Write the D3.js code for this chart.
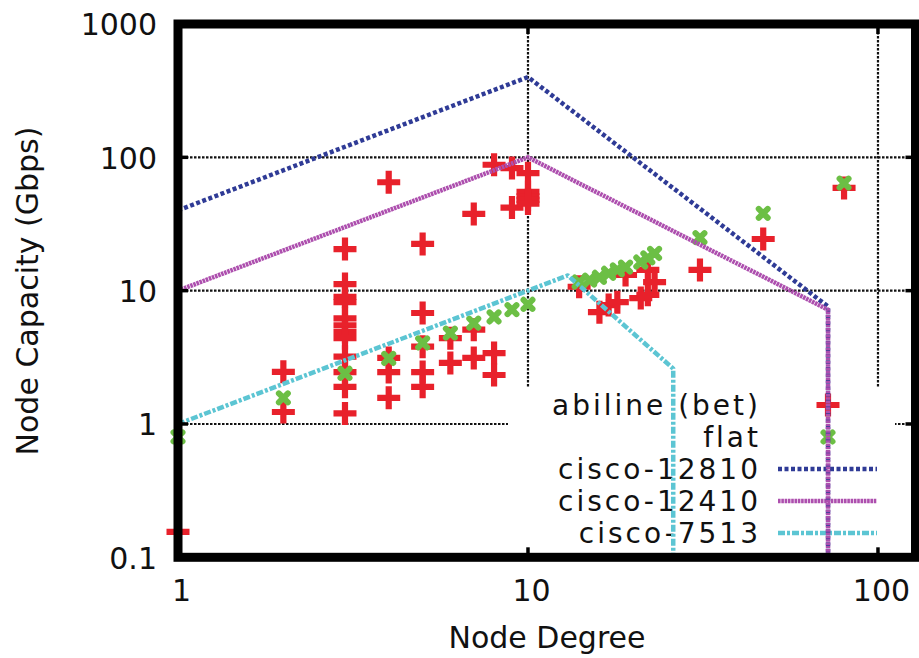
<!DOCTYPE html>
<html>
<head>
<meta charset="utf-8">
<script src="https://cdn.jsdelivr.net/npm/d3@7/dist/d3.min.js"></script>
<style>
  html, body { margin: 0; padding: 0; background: #fff; }
  svg { display: block; }
  text { font-family: "DejaVu Sans", Verdana, sans-serif; fill: #111; }
</style>
</head>
<body>
<svg id="chart" width="919" height="658"></svg>
<script>
// Measured node capacity vs. node degree (abiline, betweenness-based)
const abilineDegree = [1, 2, 2,
  3, 3, 3, 3, 3, 3, 3, 3, 3, 3, 3, 3,
  4, 4, 4, 4,
  5, 5, 5, 5, 5,
  6, 6,
  7, 7, 7,
  8, 8, 8,
  9, 9,
  10, 10, 10, 10, 10,
  14, 16, 17, 18, 19, 21, 22, 22, 23, 31, 47, 80];
const abilineCapacity = [0.155, 2.46, 1.23,
  20.5, 11.2, 9.0, 8.2, 6.2, 5.5, 4.9, 4.4, 3.2, 2.45, 1.9, 1.2,
  65, 3.13, 2.45, 1.57,
  22.4, 6.8, 3.8, 2.45, 1.9,
  4.4, 2.87,
  37.6, 5.1, 3.13,
  88, 3.4, 2.33,
  83, 42,
  76, 55, 51, 48, 45,
  10.7, 6.9, 7.8, 8.2, 13.1, 8.8, 9.3, 14.3, 11.6, 14.3, 24.4, 59];

// Flat-capacity design
const flatDegree = [1, 2, 3, 4, 5, 6, 7, 8, 9, 10,
  14, 15, 16, 17, 18, 19, 21, 22, 23, 31, 47, 80];
const flatCapacity = [0.8, 1.57, 2.4, 3.1, 4.05, 4.8, 5.7, 6.35, 7.2, 7.9,
  11.6, 12.0, 12.6, 13.5, 14.3, 15.0, 16.4, 17.6, 19.0, 25, 38, 64];

// Router technology envelopes
const cisco12810Degree = [1, 10, 72, 72];
const cisco12810Capacity = [40, 400, 7.6, 0.1];
const cisco12410Degree = [1, 10, 72, 72];
const cisco12410Capacity = [10, 100, 7.2, 0.1];
const cisco7513Degree = [1, 13, 26, 26];
const cisco7513Capacity = [1, 13, 2.6, 0.1];

const xTicks = [1, 10, 100];
const yTicks = [0.1, 1, 10, 100, 1000];
const xGrid = [10, 100];
const yGrid = [1, 10, 100];
const legendLabels = ["abiline (bet)", "flat", "cisco-12810", "cisco-12410", "cisco-7513"];

const svg = d3.select("#chart");

const x = d3.scaleLog().domain([1, 128]).range([178, 915.5]);
const y = d3.scaleLog().domain([0.1, 1000]).range([557.3, 24]);

const colors = {
  red: "#e8212b",
  green: "#6cbf45",
  blue: "#2f3b96",
  purple: "#ad4fae",
  cyan: "#5cc5d3"
};

// grid
const grid = svg.append("g");
grid.selectAll("line.gx").data(xGrid).join("line")
  .attr("x1", d => x(d)).attr("x2", d => x(d))
  .attr("y1", y(1000)).attr("y2", y(0.1))
  .attr("stroke", "#111").attr("stroke-width", 2.2).attr("stroke-dasharray", "2.5,1.5");
grid.selectAll("line.gy").data(yGrid).join("line")
  .attr("x1", x(1)).attr("x2", x(128))
  .attr("y1", d => y(d)).attr("y2", d => y(d))
  .attr("stroke", "#111").attr("stroke-width", 2.2).attr("stroke-dasharray", "2.5,1.5");

// opaque key background
svg.append("rect").attr("x", 508).attr("y", 388).attr("width", 387).attr("height", 170).attr("fill", "#fff");

// axes (labels only; frame drawn separately)
const xAxis = d3.axisBottom(x).tickValues(xTicks).tickFormat(d3.format("~g")).tickSize(0).tickPadding(22);
const yAxis = d3.axisLeft(y).tickValues(yTicks).tickFormat(d3.format("~g")).tickSize(0).tickPadding(21);
const gx = svg.append("g").attr("transform", `translate(0,${y(0.1)})`).call(xAxis);
const gy = svg.append("g").attr("transform", `translate(${x(1)},0)`).call(yAxis);
[gx, gy].forEach(g => {
  g.select(".domain").remove();
  g.selectAll("text").attr("font-size", 30).attr("font-family", "DejaVu Sans").attr("fill", "#111");
});
gy.selectAll("text").attr("dy", "0.36em");
gx.selectAll("text").attr("dx", 3);

// axis titles
svg.append("text").attr("x", 547).attr("y", 648).attr("text-anchor", "middle")
  .attr("font-size", 30).text("Node Degree");
svg.append("text").attr("transform", "translate(38,291) rotate(-90)").attr("text-anchor", "middle")
  .attr("font-size", 30).text("Node Capacity (Gbps)");

const plusPath = "M-11.5,0H11.5M0,-11.5V11.5";
const crossPath = "M-4.5,-4.5L4.5,4.5M-4.5,4.5L4.5,-4.5";

// key
const keyRows = [405, 437, 469, 501, 533];
const ls = 3;
svg.append("g").selectAll("text").data(legendLabels).join("text")
  .attr("x", 758 + ls).attr("y", (d, i) => keyRows[i] + 10)
  .attr("text-anchor", "end").attr("font-size", 28).attr("letter-spacing", ls)
  .text(d => d);

const keyLines = [
  {row: 2, color: colors.blue, dash: "4,2.5"},
  {row: 3, color: colors.purple, dash: "2.6,0.7"},
  {row: 4, color: colors.cyan, dash: "7,2,3,2"}
];
svg.append("g").selectAll("line").data(keyLines).join("line")
  .attr("x1", 778).attr("x2", 877)
  .attr("y1", d => keyRows[d.row]).attr("y2", d => keyRows[d.row])
  .attr("stroke", d => d.color).attr("stroke-width", 4.5).attr("stroke-dasharray", d => d.dash);

// abiline points
const abiline = abilineDegree.map((d, i) => [d, abilineCapacity[i]]);
svg.append("g").selectAll("path").data(abiline).join("path")
  .attr("transform", d => `translate(${x(d[0])},${y(d[1])})`)
  .attr("d", plusPath).attr("stroke", colors.red).attr("stroke-width", 6.2).attr("fill", "none");
svg.append("path").attr("transform", `translate(828,${keyRows[0]})`)
  .attr("d", plusPath).attr("stroke", colors.red).attr("stroke-width", 6.2).attr("fill", "none");

// flat points
const flat = flatDegree.map((d, i) => [d, flatCapacity[i]]);
svg.append("g").selectAll("path").data(flat).join("path")
  .attr("transform", d => `translate(${x(d[0])},${y(d[1])})`)
  .attr("d", crossPath).attr("stroke", colors.green).attr("stroke-width", 6)
  .attr("stroke-linecap", "round").attr("fill", "none");
svg.append("path").attr("transform", `translate(828,${keyRows[1]})`)
  .attr("d", crossPath).attr("stroke", colors.green).attr("stroke-width", 6)
  .attr("stroke-linecap", "round").attr("fill", "none");

// envelopes
const line = d3.line().x(d => x(d[0])).y(d => y(d[1]));
const series = [
  {deg: cisco12810Degree, cap: cisco12810Capacity, color: colors.blue, dash: "4,2.5"},
  {deg: cisco12410Degree, cap: cisco12410Capacity, color: colors.purple, dash: "2.6,0.7"},
  {deg: cisco7513Degree, cap: cisco7513Capacity, color: colors.cyan, dash: "7,2,3,2"}
];
svg.append("g").selectAll("path").data(series).join("path")
  .attr("d", s => line(s.deg.map((d, i) => [d, s.cap[i]])))
  .attr("fill", "none").attr("stroke", s => s.color).attr("stroke-width", 4.5)
  .attr("stroke-dasharray", s => s.dash).attr("stroke-linejoin", "round");

// frame and major ticks
const frame = svg.append("g");
const x0 = x(1), x1 = x(128), y0 = y(0.1), y1 = y(1000);
frame.append("rect").attr("x", x0).attr("y", y1).attr("width", x1 - x0).attr("height", y0 - y1)
  .attr("fill", "none").attr("stroke", "#000").attr("stroke-width", 9);
xGrid.forEach(v => {
  frame.append("line").attr("x1", x(v)).attr("x2", x(v)).attr("y1", y1).attr("y2", y1 + 10)
    .attr("stroke", "#000").attr("stroke-width", 3.5);
  frame.append("line").attr("x1", x(v)).attr("x2", x(v)).attr("y1", y0).attr("y2", y0 - 10)
    .attr("stroke", "#000").attr("stroke-width", 3.5);
});
yGrid.forEach(v => {
  frame.append("line").attr("x1", x0).attr("x2", x0 + 10).attr("y1", y(v)).attr("y2", y(v))
    .attr("stroke", "#000").attr("stroke-width", 3.5);
  frame.append("line").attr("x1", x1).attr("x2", x1 - 10).attr("y1", y(v)).attr("y2", y(v))
    .attr("stroke", "#000").attr("stroke-width", 3.5);
});
</script>
</body>
</html>
